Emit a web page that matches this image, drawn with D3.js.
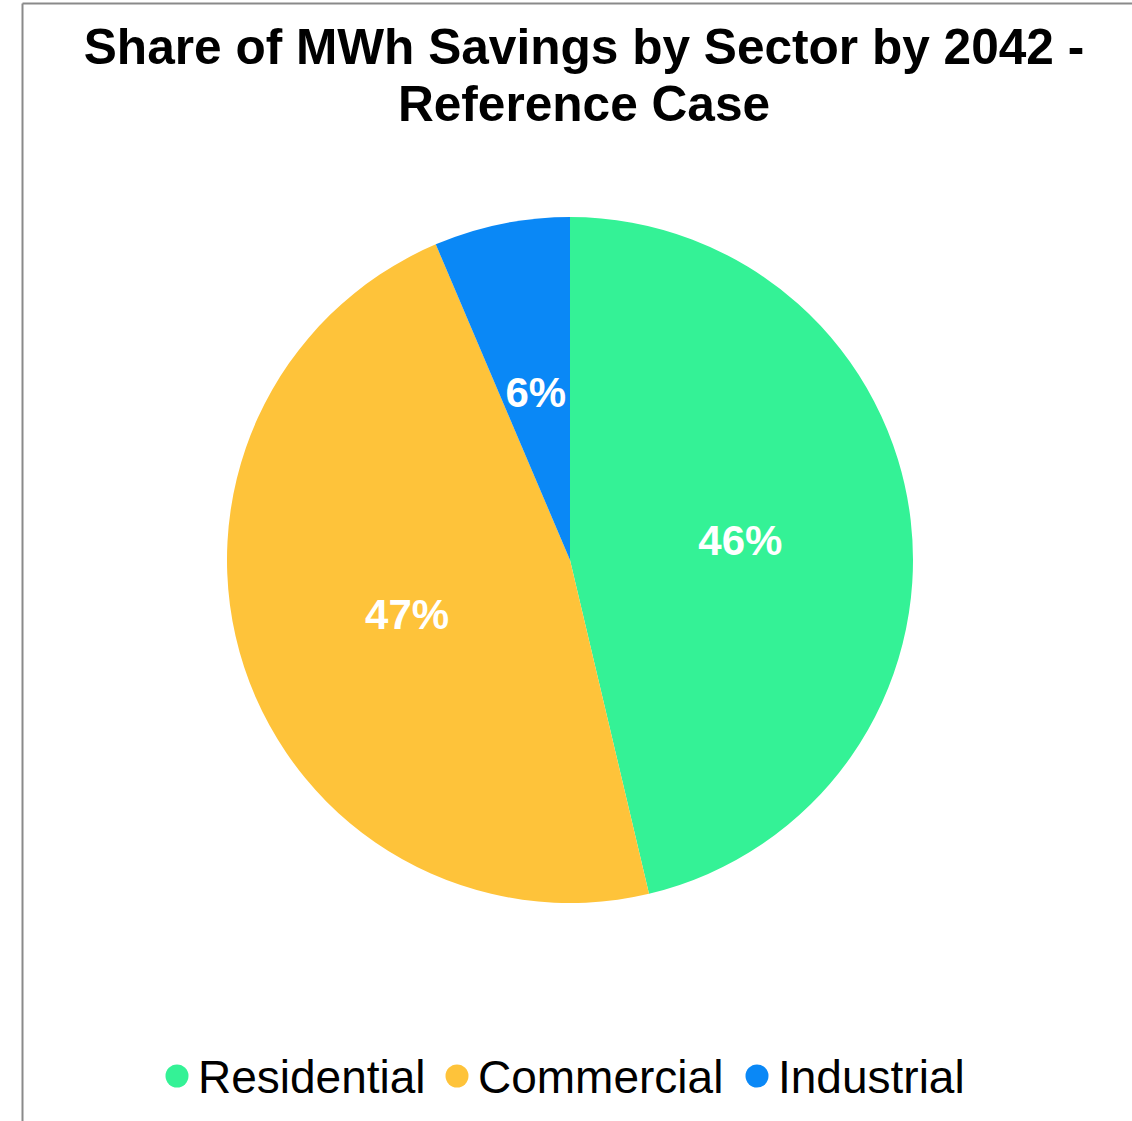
<!DOCTYPE html>
<html>
<head>
<meta charset="utf-8">
<script src="https://cdn.jsdelivr.net/npm/d3@7"></script>
<style>
  html, body { margin: 0; padding: 0; background: #fff; }
  svg { display: block; }
</style>
</head>
<body>
<svg id="chart" width="1132" height="1121"></svg>
<script>
// Sector shares of cumulative MWh savings (percent)
const sectors = ["Residential", "Commercial", "Industrial"];
const shares = [46.3, 47.3, 6.4];
const sectorColors = ["#34F296", "#FEC33A", "#0A88F6"];
const titleLines = ["Share of MWh Savings by Sector by 2042 -", "Reference Case"];

const W = 1132, H = 1121;
const svg = d3.select("#chart");

// chart frame (left and top edges visible)
svg.append("line").attr("x1", 22.5).attr("y1", 3.5).attr("x2", 22.5).attr("y2", H)
  .attr("stroke", "#8a8a8a").attr("stroke-width", 2);
svg.append("line").attr("x1", 22.5).attr("y1", 3.5).attr("x2", W).attr("y2", 3.5)
  .attr("stroke", "#8a8a8a").attr("stroke-width", 2);

// title
svg.append("g").selectAll("text").data(titleLines).join("text")
  .attr("x", 584)
  .attr("y", (d, i) => 64 + i * 57)
  .attr("text-anchor", "middle")
  .attr("font-family", "Liberation Sans, Arial, sans-serif")
  .attr("font-weight", "bold")
  .attr("font-size", 49.6)
  .attr("fill", "#000")
  .text(d => d);

// pie
const cx = 570, cy = 560, R = 343;
const color = d3.scaleOrdinal().domain(sectors).range(sectorColors);
const pie = d3.pie().sort(null).value(d => d.value);
const data = sectors.map((s, i) => ({ name: s, value: shares[i] }));
const arcs = pie(data);
const arc = d3.arc().innerRadius(0).outerRadius(R);

const g = svg.append("g").attr("transform", `translate(${cx},${cy})`);
g.selectAll("path").data(arcs).join("path")
  .attr("d", arc)
  .attr("fill", d => color(d.data.name));

g.selectAll("text.lbl").data(arcs).join("text")
  .attr("class", "lbl")
  .attr("transform", d => `translate(${arc.centroid(d)})`)
  .attr("dy", "0.36em")
  .attr("text-anchor", "middle")
  .attr("font-family", "Liberation Sans, Arial, sans-serif")
  .attr("font-weight", "bold")
  .attr("font-size", 42)
  .attr("fill", "#fff")
  .text(d => Math.round(d.data.value) + "%");

// legend
const legendX = [177, 457, 757];
const lg = svg.append("g");
const items = lg.selectAll("g").data(sectors).join("g")
  .attr("transform", (d, i) => `translate(${legendX[i]},1076)`);
items.append("circle").attr("r", 11.5).attr("fill", d => color(d));
items.append("text")
  .attr("x", 21)
  .attr("dy", "0.36em")
  .attr("font-family", "Liberation Sans, Arial, sans-serif")
  .attr("font-size", 46)
  .attr("fill", "#000")
  .text(d => d);
</script>
</body>
</html>
